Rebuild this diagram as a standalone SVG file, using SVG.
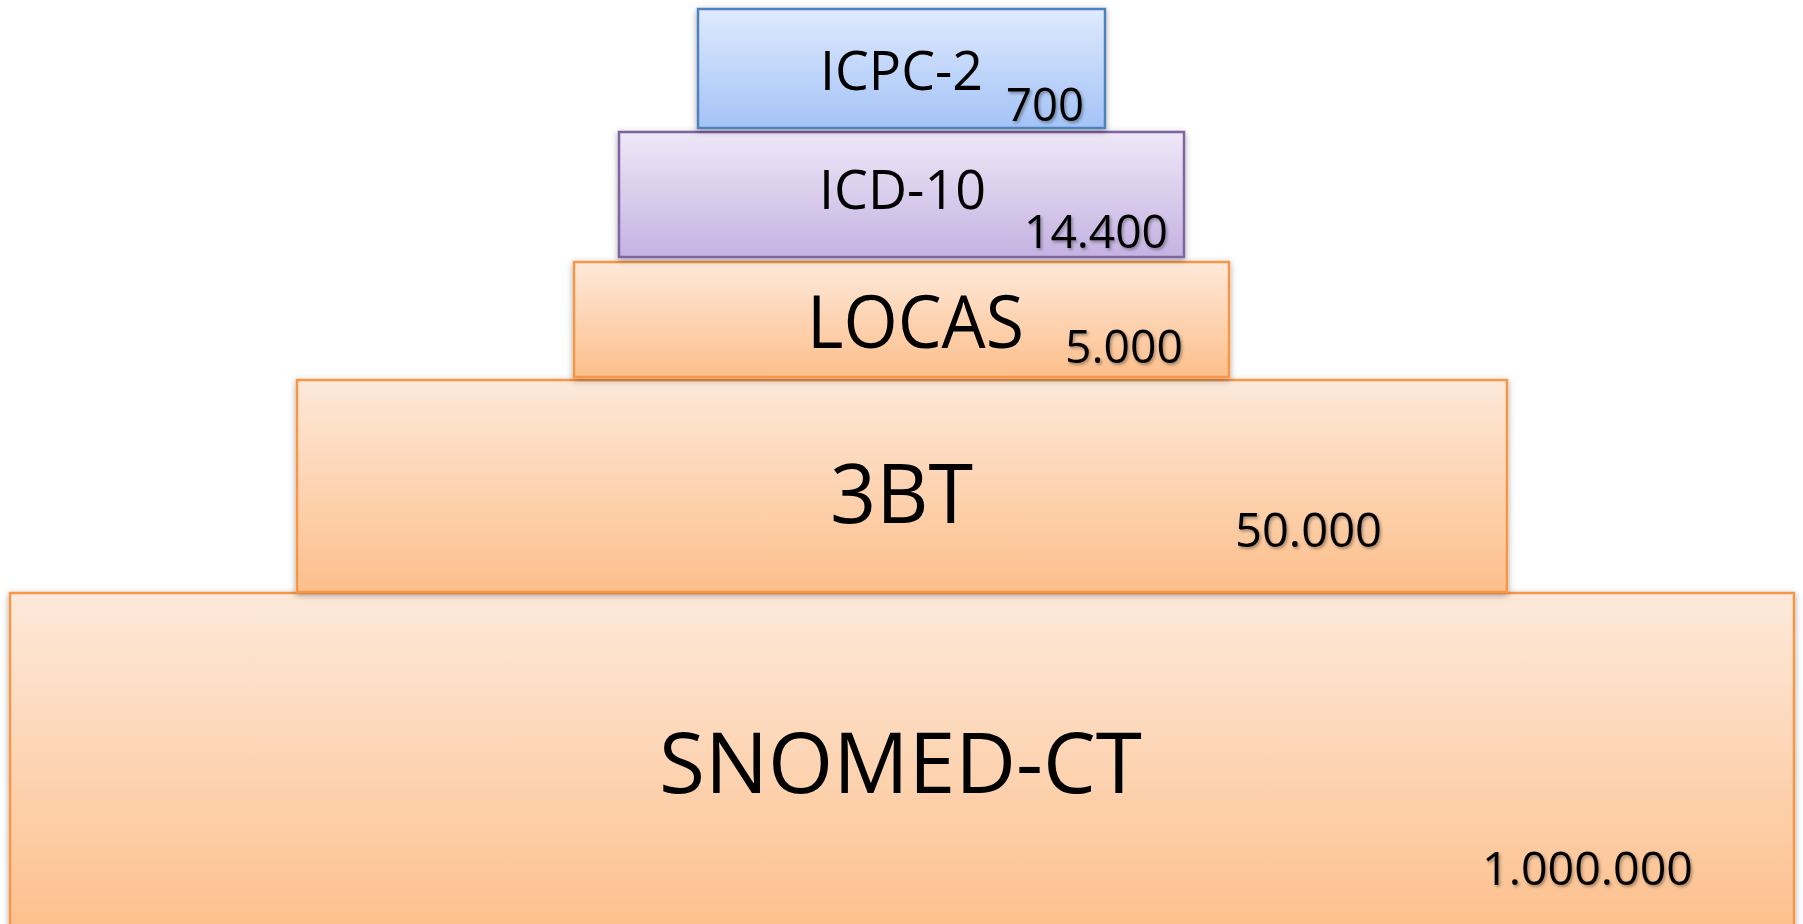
<svg xmlns="http://www.w3.org/2000/svg" width="1803" height="924" viewBox="0 0 1803 924">
  <style>
    .box { stroke-width: 2.5; }
    .label { font-family: "Open Sans", "Noto Sans", "Liberation Sans", sans-serif; fill: #000000; }
    .num { font-family: "Open Sans", "Noto Sans", "Liberation Sans", sans-serif; fill: #000000; filter: url(#tshadow); }
  </style>
  <defs>
    <linearGradient id="gBlue" x1="0" y1="0" x2="0" y2="1">
      <stop offset="0" stop-color="#dfeafd"/>
      <stop offset="1" stop-color="#a3c3f7"/>
    </linearGradient>
    <linearGradient id="gPurple" x1="0" y1="0" x2="0" y2="1">
      <stop offset="0" stop-color="#eee8f7"/>
      <stop offset="1" stop-color="#c5b2e2"/>
    </linearGradient>
    <linearGradient id="gOrange" x1="0" y1="0" x2="0" y2="1">
      <stop offset="0" stop-color="#fde9da"/>
      <stop offset="1" stop-color="#fdbf8b"/>
    </linearGradient>
    <filter id="bshadow" x="-5%" y="-10%" width="110%" height="125%">
      <feDropShadow dx="0" dy="2" stdDeviation="3" flood-color="#000000" flood-opacity="0.35"/>
    </filter>
    <filter id="tshadow" x="-10%" y="-20%" width="120%" height="150%">
      <feDropShadow dx="1.5" dy="2" stdDeviation="1.5" flood-color="#000000" flood-opacity="0.35"/>
    </filter>
  </defs>

  <rect width="1803" height="924" fill="#ffffff"/>

  <g id="snomed-ct">
    <rect class="box" x="10" y="593" width="1784" height="345" fill="url(#gOrange)" stroke="#f79646" filter="url(#bshadow)"/>
    <text class="label" x="659" y="793" font-size="85" textLength="483" lengthAdjust="spacingAndGlyphs">SNOMED-CT</text>
    <text class="num" x="1482" y="885" font-size="46" textLength="211" lengthAdjust="spacingAndGlyphs">1.000.000</text>
  </g>

  <g id="3bt">
    <rect class="box" x="297" y="380" width="1210" height="212" fill="url(#gOrange)" stroke="#f79646" filter="url(#bshadow)"/>
    <text class="label" x="830" y="523" font-size="83" textLength="143" lengthAdjust="spacingAndGlyphs">3BT</text>
    <text class="num" x="1235" y="547" font-size="47" textLength="147" lengthAdjust="spacingAndGlyphs">50.000</text>
  </g>

  <g id="locas">
    <rect class="box" x="574" y="262" width="655" height="115" fill="url(#gOrange)" stroke="#f79646" filter="url(#bshadow)"/>
    <text class="label" x="807" y="348" font-size="73" textLength="217" lengthAdjust="spacingAndGlyphs">LOCAS</text>
    <text class="num" x="1065" y="363" font-size="46" textLength="118" lengthAdjust="spacingAndGlyphs">5.000</text>
  </g>

  <g id="icd-10">
    <rect class="box" x="619" y="132" width="565" height="125" fill="url(#gPurple)" stroke="#8064a2" filter="url(#bshadow)"/>
    <text class="label" x="819" y="209" font-size="54" textLength="167" lengthAdjust="spacingAndGlyphs">ICD-10</text>
    <text class="num" x="1024" y="248" font-size="46" textLength="144" lengthAdjust="spacingAndGlyphs">14.400</text>
  </g>

  <g id="icpc-2">
    <rect class="box" x="698" y="9" width="407" height="119" fill="url(#gBlue)" stroke="#4f81bd" filter="url(#bshadow)"/>
    <text class="label" x="820" y="90" font-size="55" textLength="163" lengthAdjust="spacingAndGlyphs">ICPC-2</text>
    <text class="num" x="1006" y="121" font-size="45" textLength="78" lengthAdjust="spacingAndGlyphs">700</text>
  </g>

  <g id="connectors"></g>
</svg>
